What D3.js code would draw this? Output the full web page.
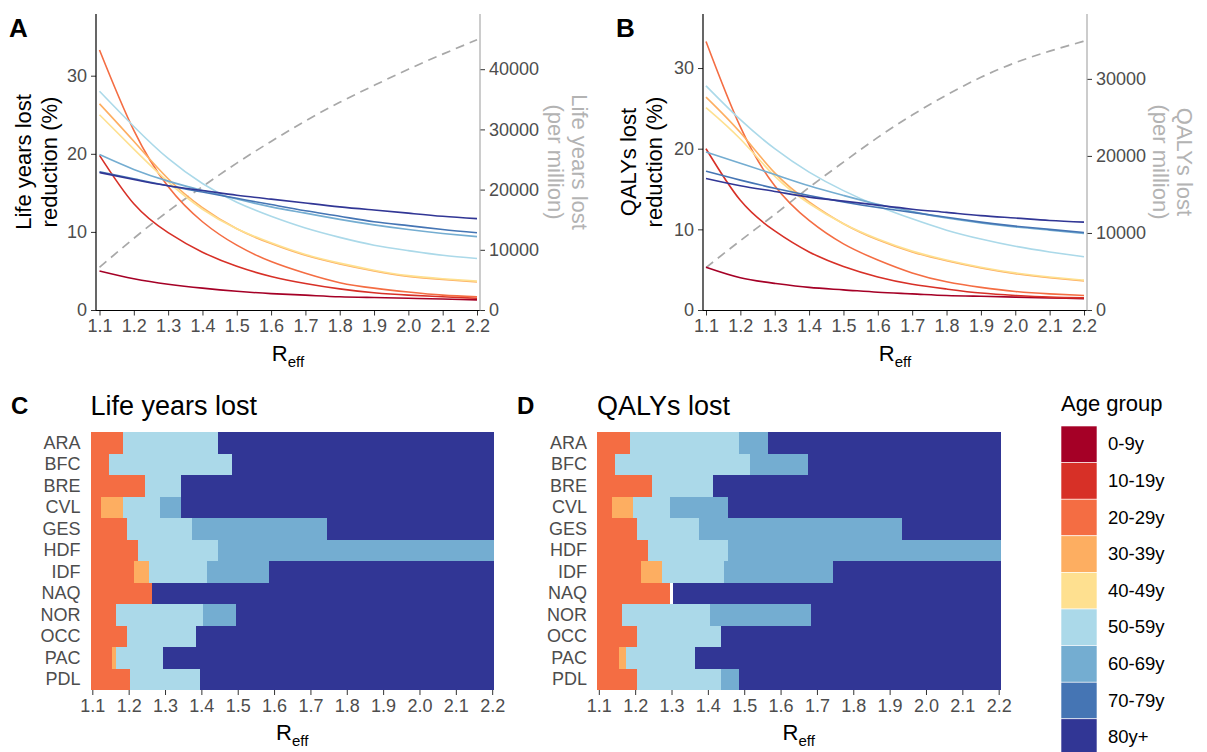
<!DOCTYPE html>
<html>
<head>
<meta charset="utf-8">
<script src="https://cdn.jsdelivr.net/npm/d3@7"></script>
<style>
  body { margin: 0; background: #fff; }
  svg { display: block; font-family: "Liberation Sans", Arial, sans-serif; }
</style>
</head>
<body>
<svg id="chart" width="1207" height="752"></svg>
<script>
// ---- data ----
var reff = [1.1, 1.2, 1.3, 1.4, 1.5, 1.6, 1.7, 1.8, 1.9, 2.0, 2.1, 2.2];
var ageGroups = ["0-9y", "10-19y", "20-29y", "30-39y", "40-49y", "50-59y", "60-69y", "70-79y", "80y+"];
var ageColors = ["#a50026", "#d73027", "#f46d43", "#fdae61", "#fee090", "#abd9e9", "#74add1", "#4575b4", "#313695"];

// reduction (%) of life years lost, one row per age group
var lylReduction = [
  [5.0, 4.0, 3.3, 2.8, 2.4, 2.1, 1.9, 1.7, 1.6, 1.5, 1.4, 1.3],
  [19.8, 13.6, 9.9, 7.4, 5.6, 4.3, 3.4, 2.7, 2.2, 1.9, 1.7, 1.5],
  [33.3, 23.0, 15.8, 11.3, 8.3, 6.2, 4.7, 3.5, 2.8, 2.3, 1.9, 1.7],
  [26.4, 21.6, 16.8, 13.1, 10.4, 8.5, 7.0, 5.9, 5.0, 4.3, 3.9, 3.6],
  [25.0, 20.6, 16.4, 12.9, 10.4, 8.6, 7.1, 6.0, 5.1, 4.4, 4.0, 3.7],
  [28.0, 23.5, 19.4, 16.2, 13.8, 12.0, 10.5, 9.3, 8.3, 7.6, 7.0, 6.6],
  [19.9, 18.0, 16.5, 15.3, 14.2, 13.2, 12.4, 11.6, 10.9, 10.3, 9.8, 9.4],
  [17.7, 16.8, 15.9, 15.1, 14.3, 13.5, 12.7, 12.0, 11.3, 10.8, 10.3, 9.9],
  [17.6, 16.7, 15.9, 15.3, 14.7, 14.2, 13.7, 13.2, 12.8, 12.4, 12.0, 11.7]
];
var lylPerMillion = [7100, 11900, 16400, 20500, 24400, 28000, 31400, 34500, 37300, 40000, 42500, 44900];

// reduction (%) of QALYs lost
var qalyReduction = [
  [5.3, 4.0, 3.3, 2.8, 2.5, 2.2, 2.0, 1.8, 1.7, 1.6, 1.5, 1.4],
  [20.0, 13.6, 9.8, 7.2, 5.4, 4.1, 3.2, 2.6, 2.1, 1.8, 1.6, 1.5],
  [33.3, 22.7, 15.4, 11.1, 8.2, 6.2, 4.6, 3.5, 2.8, 2.3, 2.0, 1.8],
  [26.4, 22.0, 17.0, 13.4, 10.7, 8.7, 7.2, 6.1, 5.2, 4.5, 4.0, 3.6],
  [25.1, 21.2, 16.6, 13.2, 10.7, 8.8, 7.3, 6.2, 5.3, 4.6, 4.1, 3.7],
  [27.8, 23.6, 20.0, 17.1, 14.8, 12.9, 11.3, 9.9, 8.8, 7.9, 7.2, 6.6],
  [19.6, 18.2, 16.8, 15.4, 14.2, 13.1, 12.2, 11.4, 10.8, 10.3, 9.9, 9.5],
  [17.2, 16.1, 15.1, 14.2, 13.4, 12.7, 12.1, 11.5, 10.9, 10.4, 10.0, 9.6],
  [16.3, 15.4, 14.7, 14.0, 13.5, 13.0, 12.5, 12.1, 11.7, 11.4, 11.1, 10.9]
];
var qalyPerMillion = [5500, 9000, 12400, 15900, 19200, 22400, 25300, 27900, 30200, 32100, 33600, 34900];

var regions = ["ARA", "BFC", "BRE", "CVL", "GES", "HDF", "IDF", "NAQ", "NOR", "OCC", "PAC", "PDL"];
var xTicks = [1.1, 1.2, 1.3, 1.4, 1.5, 1.6, 1.7, 1.8, 1.9, 2.0, 2.1, 2.2];

// best age group to vaccinate: runs of [age group index, last Reff of run]
var lylBest = [
  [[2, 1.18], [5, 1.44], [8, 2.20]],
  [[2, 1.14], [5, 1.48], [8, 2.20]],
  [[2, 1.24], [5, 1.34], [8, 2.20]],
  [[2, 1.12], [3, 1.18], [5, 1.28], [6, 1.34], [8, 2.20]],
  [[2, 1.19], [5, 1.37], [6, 1.74], [8, 2.20]],
  [[2, 1.22], [5, 1.44], [6, 2.20]],
  [[2, 1.21], [3, 1.25], [5, 1.41], [6, 1.58], [8, 2.20]],
  [[2, 1.26], [8, 2.20]],
  [[2, 1.16], [5, 1.40], [6, 1.49], [8, 2.20]],
  [[2, 1.19], [5, 1.38], [8, 2.20]],
  [[2, 1.15], [3, 1.16], [5, 1.29], [8, 2.20]],
  [[2, 1.20], [5, 1.39], [8, 2.20]]
];
var qalyBest = [
  [[2, 1.18], [5, 1.48], [6, 1.56], [8, 2.20]],
  [[2, 1.14], [5, 1.51], [6, 1.67], [8, 2.20]],
  [[2, 1.24], [5, 1.41], [8, 2.20]],
  [[2, 1.13], [3, 1.19], [5, 1.29], [6, 1.45], [8, 2.20]],
  [[2, 1.20], [5, 1.37], [6, 1.93], [8, 2.20]],
  [[2, 1.23], [5, 1.45], [6, 2.20]],
  [[2, 1.21], [3, 1.27], [5, 1.44], [6, 1.74], [8, 2.20]],
  [[2, 1.29], [null, 1.30], [8, 2.20]],
  [[2, 1.16], [5, 1.40], [6, 1.68], [8, 2.20]],
  [[2, 1.20], [5, 1.43], [8, 2.20]],
  [[2, 1.15], [3, 1.17], [5, 1.36], [8, 2.20]],
  [[2, 1.20], [5, 1.43], [6, 1.48], [8, 2.20]]
];

var svg = d3.select("#chart");
var tickCol = "#4d4d4d";
var tickFont = 18;

var reffLabel = function(g, x, y) {
  var t = g.append("text").attr("x", x).attr("y", y).attr("text-anchor", "middle")
    .style("font-size", "22px").attr("fill", "#000");
  t.append("tspan").text("R");
  t.append("tspan").attr("dy", 6).style("font-size", "15px").text("eff");
};

var lineChart = function(p) {
  var g = svg.append("g");
  var x = d3.scaleLinear().domain([1.1, 2.2]).range([p.x1, p.x2]);
  var y = d3.scaleLinear().domain([0, p.yMax]).range([p.bottom, p.top]);
  var y2 = d3.scaleLinear().domain([0, p.y2Max]).range([p.bottom, p.top]);

  var line = d3.line().x(function(d, i) { return x(reff[i]); }).y(function(d) { return y(d); })
    .curve(d3.curveNatural);
  var line2 = d3.line().x(function(d, i) { return x(reff[i]); }).y(function(d) { return y2(d); })
    .curve(d3.curveNatural);

  g.append("path").datum(p.total).attr("d", line2).attr("fill", "none")
    .attr("stroke", "#a8a8a8").attr("stroke-width", 1.7).attr("stroke-dasharray", "9,6");

  g.selectAll(".age").data(p.series).enter().append("path")
    .attr("d", line).attr("fill", "none")
    .attr("stroke", function(d, i) { return ageColors[i]; })
    .attr("stroke-width", 1.6);

  // axes
  var ax = g.append("g").attr("transform", "translate(0," + p.axisY + ")")
    .call(d3.axisBottom(x).tickValues(xTicks).tickFormat(d3.format(".1f")).tickSize(5).tickPadding(4));
  var ay = g.append("g").attr("transform", "translate(" + p.left + ",0)")
    .call(d3.axisLeft(y).tickValues([0, 10, 20, 30]).tickSize(5).tickPadding(4));
  var ay2 = g.append("g").attr("transform", "translate(" + p.right + ",0)")
    .call(d3.axisRight(y2).tickValues(p.y2Ticks).tickFormat(d3.format("d")).tickSize(5).tickPadding(4));
  [ax, ay, ay2].forEach(function(a) {
    a.select(".domain").remove();
    a.selectAll(".tick line").attr("stroke", "#333");
    a.selectAll(".tick text").attr("fill", tickCol).style("font-size", tickFont + "px");
  });
  g.append("line").attr("x1", p.left).attr("x2", p.left).attr("y1", p.top).attr("y2", p.axisY)
    .attr("stroke", "#000").attr("stroke-width", 1.2);
  g.append("line").attr("x1", p.left).attr("x2", p.right).attr("y1", p.axisY).attr("y2", p.axisY)
    .attr("stroke", "#000").attr("stroke-width", 1.2);
  g.append("line").attr("x1", p.right).attr("x2", p.right).attr("y1", p.top).attr("y2", p.axisY)
    .attr("stroke", "#aaaaaa").attr("stroke-width", 1.2);

  // titles
  var cy = (p.top + p.bottom) / 2;
  p.leftTitle.forEach(function(s, i) {
    g.append("text").attr("transform", "translate(" + p.leftTitleX[i] + "," + cy + ") rotate(-90)")
      .attr("text-anchor", "middle").style("font-size", "22px").attr("fill", "#000").text(s);
  });
  p.rightTitle.forEach(function(s, i) {
    g.append("text").attr("transform", "translate(" + p.rightTitleX[i] + "," + cy + ") rotate(90)")
      .attr("text-anchor", "middle").style("font-size", "22px").attr("fill", "#b3b3b3").text(s);
  });
  reffLabel(g, (p.left + p.right) / 2, 361);
  g.append("text").attr("x", p.tagX).attr("y", 37).style("font-size", "26px")
    .style("font-weight", "bold").text(p.tag);
};

lineChart({
  tag: "A", tagX: 9,
  left: 96, right: 480, top: 14, bottom: 310, axisY: 310.5,
  x1: 99.5, x2: 477, yMax: 37.9, y2Max: 49170, y2Ticks: [0, 10000, 20000, 30000, 40000],
  series: lylReduction, total: lylPerMillion,
  leftTitle: ["Life years lost", "reduction (%)"], leftTitleX: [31, 57],
  rightTitle: ["Life years lost", "(per million)"], rightTitleX: [572, 548]
});
lineChart({
  tag: "B", tagX: 616,
  left: 703, right: 1087, top: 14, bottom: 310, axisY: 310.5,
  x1: 706, x2: 1084, yMax: 36.7, y2Max: 38420, y2Ticks: [0, 10000, 20000, 30000],
  series: qalyReduction, total: qalyPerMillion,
  leftTitle: ["QALYs lost", "reduction (%)"], leftTitleX: [636, 662],
  rightTitle: ["QALYs lost", "(per million)"], rightTitleX: [1177, 1153]
});

var heatmap = function(p) {
  var g = svg.append("g");
  var x = d3.scaleLinear().domain([1.095, 2.205]).range([p.x0, p.x1]);
  var y = d3.scaleBand().domain(regions).range([432, 690]);

  var cells = [];
  p.runs.forEach(function(runs, r) {
    var start = 1.10;
    runs.forEach(function(run) {
      if (run[0] !== null) {
        cells.push({ region: regions[r], group: run[0], from: start, to: run[1] });
      }
      start = Math.round((run[1] + 0.01) * 100) / 100;
    });
  });
  g.selectAll(".cell").data(cells).enter().append("rect")
    .attr("x", function(d) { return x(d.from - 0.005); })
    .attr("width", function(d) { return x(d.to + 0.005) - x(d.from - 0.005); })
    .attr("y", function(d) { return y(d.region); })
    .attr("height", y.bandwidth() + 0.3)
    .attr("fill", function(d) { return ageColors[d.group]; })
    .attr("shape-rendering", "crispEdges");

  var ax = g.append("g").attr("transform", "translate(0,690)")
    .call(d3.axisBottom(x).tickValues(xTicks).tickFormat(d3.format(".1f")).tickSize(5).tickPadding(4));
  var ay = g.append("g").attr("transform", "translate(" + p.x0 + ",0)")
    .call(d3.axisLeft(y).tickSize(0).tickPadding(10));
  [ax, ay].forEach(function(a) {
    a.select(".domain").remove();
    a.selectAll(".tick line").attr("stroke", "#333");
    a.selectAll(".tick text").attr("fill", tickCol).style("font-size", tickFont + "px");
  });
  reffLabel(g, (p.x0 + p.x1) / 2, 740);
  g.append("text").attr("x", p.tagX).attr("y", 414).style("font-size", "24px")
    .style("font-weight", "bold").text(p.tag);
  g.append("text").attr("x", p.x0).attr("y", 415).style("font-size", "27px").text(p.title);
};

heatmap({ tag: "C", tagX: 11, title: "Life years lost", x0: 90.5, x1: 494, runs: lylBest });
heatmap({ tag: "D", tagX: 517, title: "QALYs lost", x0: 597, x1: 1000.5, runs: qalyBest });

// legend
var lg = svg.append("g");
lg.append("text").attr("x", 1061).attr("y", 411).style("font-size", "22px").text("Age group");
var keyH = 36.6;
lg.selectAll(".key").data(ageGroups).enter().append("rect")
  .attr("x", 1061).attr("y", function(d, i) { return 426 + i * keyH; })
  .attr("width", 36).attr("height", keyH)
  .attr("fill", function(d, i) { return ageColors[i]; })
  .attr("stroke", "#fff").attr("stroke-width", 0.6);
lg.selectAll(".lab").data(ageGroups).enter().append("text")
  .attr("x", 1108).attr("y", function(d, i) { return 426 + i * keyH + keyH / 2 + 6; })
  .style("font-size", "18.5px").text(function(d) { return d; });
</script>
</body>
</html>
